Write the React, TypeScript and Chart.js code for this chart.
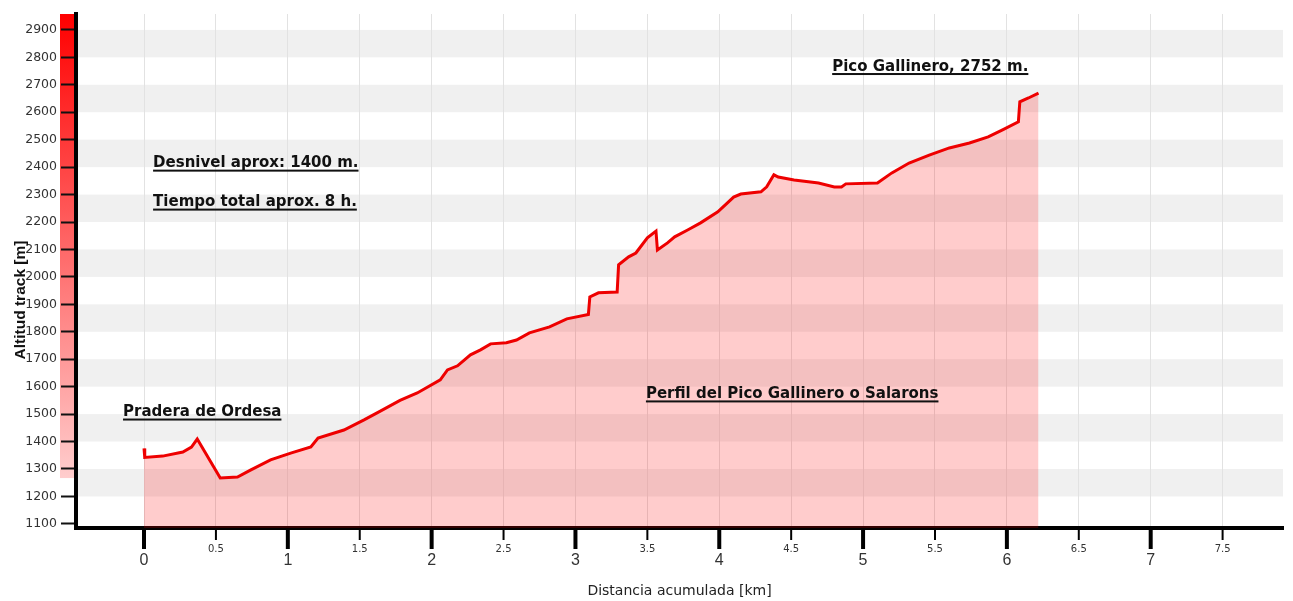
import React, { useEffect, useRef } from 'react';
import { Chart, registerables } from 'chart.js';

Chart.register(...registerables);

// Profile data (distance in km, altitude in m)
const distanceKm = [
  0, 0.005, 0.13, 0.27, 0.33, 0.37, 0.53, 0.65, 0.74, 0.88, 1.02, 1.16, 1.21, 1.39, 1.53, 1.64, 1.78, 1.9,
  2.06, 2.11, 2.18, 2.27, 2.34, 2.41, 2.52, 2.59, 2.68, 2.82, 2.94, 3.09, 3.1, 3.16, 3.29, 3.3, 3.37, 3.42,
  3.5, 3.56, 3.57, 3.64, 3.69, 3.78, 3.87, 3.99, 4.1, 4.15, 4.29, 4.33, 4.38, 4.41, 4.52, 4.69, 4.8, 4.85,
  4.88, 5.1, 5.2, 5.32, 5.46, 5.6, 5.74, 5.87, 5.97, 6.08, 6.09, 6.15, 6.22,
];
const altitudeM = [
  1375, 1342, 1347, 1362, 1380, 1409, 1267, 1271, 1296, 1333, 1358, 1380, 1413, 1442, 1479, 1510, 1550, 1577,
  1625, 1661, 1676, 1716, 1734, 1756, 1760, 1770, 1796, 1818, 1847, 1863, 1927, 1942, 1945, 2044, 2073, 2087,
  2142, 2167, 2098, 2124, 2146, 2171, 2197, 2237, 2291, 2302, 2310, 2328, 2372, 2364, 2353, 2342, 2328, 2328,
  2339, 2342, 2379, 2415, 2444, 2470, 2488, 2510, 2536, 2565, 2638, 2652, 2670,
];

// Axis ranges and ticks
const xRange = [-0.473, 7.92];
const xTickStep = 0.5;
const yRange = [1085, 2958];
const yTickStep = 100;

const xAxisTitle = 'Distancia acumulada [km]';
const yAxisTitle = 'Altitud track [m]';

// Annotations (anchored in data coordinates: left x in km, baseline in m)
const annotationTexts = [
  'Desnivel aprox: 1400 m.',
  'Tiempo total aprox. 8 h.',
  'Pradera de Ordesa',
  'Perfil del Pico Gallinero o Salarons',
  'Pico Gallinero, 2752 m.',
];
const annotationKm = [0.063, 0.063, -0.146, 3.49, 4.785];
const annotationAlt = [2400, 2258, 1493, 1559, 2752];

const decorPlugin = {
  id: 'decor',
  beforeDraw(chart: any) {
    const { ctx, chartArea, scales } = chart;
    const y = scales.y;
    ctx.save();
    // alternating horizontal bands
    ctx.fillStyle = '#f0f0f0';
    const ticks = y.ticks;
    for (let i = 1; i + 1 < ticks.length; i += 2) {
      const top = y.getPixelForValue(ticks[i + 1].value);
      const bot = y.getPixelForValue(ticks[i].value);
      ctx.fillRect(chartArea.left, top, chartArea.right - chartArea.left, bot - top);
    }
    // altitude range gradient bar on the left of the axis
    const minAlt = Math.min(...altitudeM);
    const barBottom = y.getPixelForValue(minAlt);
    const g = ctx.createLinearGradient(0, chartArea.top, 0, barBottom);
    g.addColorStop(0, 'rgb(255,0,0)');
    g.addColorStop(1, 'rgb(255,205,205)');
    ctx.fillStyle = g;
    ctx.fillRect(chartArea.left - 16, chartArea.top, 14, barBottom - chartArea.top);
    ctx.restore();
  },
  afterDraw(chart: any) {
    const { ctx, chartArea, scales } = chart;
    const x = scales.x;
    const y = scales.y;
    ctx.save();
    // x tick marks: long for integers, short for halves
    ctx.strokeStyle = '#000';
    for (const t of x.ticks) {
      const px = x.getPixelForValue(t.value);
      const isInt = Number.isInteger(t.value);
      ctx.lineWidth = isInt ? 4 : 2;
      ctx.beginPath();
      ctx.moveTo(px, chartArea.bottom + 2);
      ctx.lineTo(px, chartArea.bottom + (isInt ? 21 : 12));
      ctx.stroke();
    }
    // annotations
    ctx.fillStyle = '#111';
    ctx.font = 'bold 15px "DejaVu Sans"';
    ctx.textAlign = 'left';
    ctx.textBaseline = 'alphabetic';
    annotationTexts.forEach((txt, i) => {
      const px = x.getPixelForValue(annotationKm[i]);
      const py = y.getPixelForValue(annotationAlt[i]);
      ctx.fillText(txt, px, py);
      const w = ctx.measureText(txt).width;
      ctx.fillRect(px, py + 2.5, w, 2);
    });
    // y axis title
    ctx.translate(21, (chartArea.top + chartArea.bottom) / 2 + 29);
    ctx.rotate(-Math.PI / 2);
    ctx.textAlign = 'center';
    ctx.textBaseline = 'middle';
    ctx.font = 'bold 15.5px "Liberation Sans"';
    ctx.fillStyle = '#111';
    ctx.fillText(yAxisTitle, 0, 0);
    ctx.restore();
  },
};

export default function App() {
  const ref = useRef<HTMLCanvasElement | null>(null);
  useEffect(() => {
    if (!ref.current) return;
    const chart = new Chart(ref.current, {
      type: 'line',
      data: {
        datasets: [
          {
            data: distanceKm.map((d, i) => ({ x: d, y: altitudeM[i] })),
            borderColor: 'rgb(238,0,0)',
            borderWidth: 3,
            backgroundColor: 'rgba(255,0,0,0.2)',
            fill: 'start',
            pointRadius: 0,
            tension: 0,
          },
        ],
      },
      options: {
        animation: false,
        responsive: false,
        events: [],
        layout: { padding: { top: 14, right: 10, left: 0, bottom: 0 } },
        plugins: { legend: { display: false }, tooltip: { enabled: false }, title: { display: false } },
        scales: {
          x: {
            type: 'linear',
            min: xRange[0],
            max: xRange[1],
            afterFit: (s: any) => {
              s.height = 73;
            },
            border: { display: true, color: '#000', width: 4 },
            grid: { color: '#e2e2e2', lineWidth: 1, drawTicks: true, tickLength: 12, tickColor: 'transparent' },
            ticks: {
              stepSize: xTickStep,
              includeBounds: false,
              autoSkip: false,
              maxRotation: 0,
              padding: 0,
              color: '#333',
              font: (c: any) =>
                Number.isInteger(c.tick?.value)
                  ? { family: 'Liberation Sans', size: 16, lineHeight: 2.625 }
                  : { family: 'DejaVu Sans', size: 10, lineHeight: 1.8 },
              callback: (v: any) => String(v),
            },
            title: {
              display: true,
              text: xAxisTitle,
              color: '#222',
              font: { family: 'DejaVu Sans', size: 14 },
              padding: { top: 0, bottom: 1 },
            },
          },
          y: {
            type: 'linear',
            min: yRange[0],
            max: yRange[1],
            afterFit: (s: any) => {
              s.width = 76;
            },
            border: { display: true, color: '#000', width: 4 },
            grid: { color: 'transparent', drawTicks: true, tickLength: 15, tickColor: '#111', tickWidth: 2 },
            ticks: {
              stepSize: yTickStep,
              includeBounds: false,
              autoSkip: false,
              padding: 4,
              color: '#333',
              font: { family: 'DejaVu Sans', size: 12.5 },
              callback: (v: any) => String(v),
            },
          },
        },
      },
      plugins: [decorPlugin],
    } as any);
    return () => chart.destroy();
  }, []);
  return (
    <div style={{ position: 'fixed', left: 0, top: 0, width: 1293, height: 601, background: '#fff' }}>
      <canvas ref={ref} width={1293} height={601} style={{ display: 'block' }} />
    </div>
  );
}
